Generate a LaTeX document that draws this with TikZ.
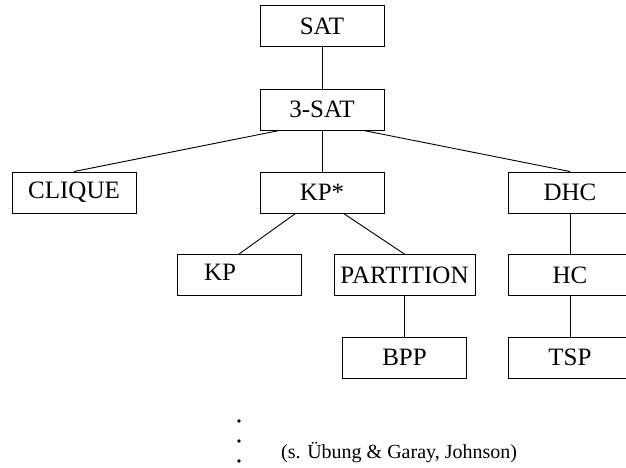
\documentclass[tikz,border=0pt]{standalone}
\usepackage{fontspec}
\setmainfont{Liberation Serif}
\begin{document}
\begin{tikzpicture}[x=1pt,y=-1pt,
  prob/.style={draw,line width=0.9pt,minimum width=124pt,minimum height=41pt,
    inner sep=0pt,font=\fontsize{25}{28}\selectfont},
  link/.style={line width=0.9pt},
  dotmark/.style={circle,fill,inner sep=0pt,minimum size=3.6pt}]
  \useasboundingbox (0,0) rectangle (626,468);
  \clip (0,0) rectangle (626,468);

  % reduction tree
  \node[prob] (sat)     at (322,26)    {SAT};
  \node[prob] (sat3)    at (322,109.5) {3-SAT};
  \node[prob] (clique)  at (74,192.5)  {CLIQUE};
  \node[prob] (kpstar)  at (322,192.5) {KP*};
  \node[prob] (dhc)     at (570,192.5) {DHC};
  \node[prob] (kp)      at (239,275)   {};
  \node[font=\fontsize{25}{28}\selectfont,inner sep=0pt] (kptext) at (220,272) {KP};
  \node[prob,minimum width=141pt] (part) at (404.5,275) {PARTITION};
  \node[prob] (hc)      at (570,275)   {HC};
  \node[prob] (bpp)     at (404.5,357.5) {BPP};
  \node[prob] (tsp)     at (570,357.5) {TSP};

  \draw[link] (sat) -- (sat3);
  \draw[link] (sat3.south west) ++(20,0) coordinate (c1) -- (clique.north);
  \draw[link] (sat3) -- (kpstar);
  \draw[link] (sat3.south east) ++(-21,0) coordinate (c2) -- (dhc.north);
  \draw[link] (kpstar.south west) ++(36,0) coordinate (c3) -- (kp.north);
  \draw[link] (kpstar.south west) ++(84,0) coordinate (c4) -- (part.north);
  \draw[link] (part) -- (bpp);
  \draw[link] (dhc) -- (hc);
  \draw[link] (hc) -- (tsp);

  % vertical ellipsis and reference
  \node[dotmark] (d1) at (239,421) {};
  \node[dotmark] (d2) at (239,441) {};
  \node[dotmark] (d3) at (239,461) {};
  \node[anchor=west,inner sep=0pt,font=\fontsize{20}{24}\selectfont] (note) at (281,453)
    {(s. Übung \& Garay, Johnson)};
\end{tikzpicture}
\end{document}
